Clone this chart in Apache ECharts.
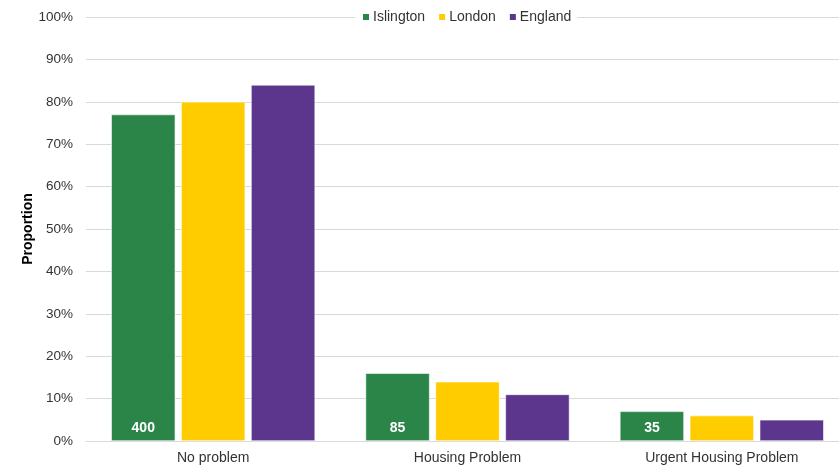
<!DOCTYPE html>
<html>
<head>
<meta charset="utf-8">
<script src="https://cdn.jsdelivr.net/npm/echarts@6/dist/echarts.min.js"></script>
<style>
  html, body { margin: 0; padding: 0; background: #fff; }
  #chart { width: 839px; height: 466px; }
</style>
</head>
<body>
<div id="chart"></div>
<script>
// Housing problem status: share of households by area
const categories = ['No problem', 'Housing Problem', 'Urgent Housing Problem'];
const islington = [77, 16, 7];
const london = [80, 14, 6];
const england = [84, 11, 5];
// Islington respondent counts shown on the bars
const islingtonCounts = [400, 85, 35];
const yTicks = [0, 10, 20, 30, 40, 50, 60, 70, 80, 90, 100];

const FONT = '"Liberation Sans", Arial, sans-serif';
const chart = echarts.init(document.getElementById('chart'));

chart.setOption({
  animation: false,
  textStyle: { fontFamily: FONT },
  legend: {
    top: 8,
    left: 355,
    padding: [2, 6],
    backgroundColor: '#ffffff',
    itemWidth: 8,
    itemHeight: 8,
    itemGap: 12,
    icon: 'rect',
    textStyle: { fontFamily: FONT, fontSize: 14, color: '#333333', padding: [0, 0, 0, -2] },
    data: ['Islington', 'London', 'England']
  },
  // the plot runs slightly past the right edge of the canvas
  grid: {
    left: 86, width: 763, top: 17, bottom: 25,
    containLabel: false,
    outerBoundsMode: 'none'
  },
  xAxis: {
    type: 'category',
    data: categories,
    axisTick: { show: false },
    axisLine: { lineStyle: { color: '#d9d9d9', width: 1 } },
    axisLabel: { fontFamily: FONT, fontSize: 14, color: '#333333', margin: 10 }
  },
  yAxis: {
    type: 'value',
    min: yTicks[0],
    max: yTicks[yTicks.length - 1],
    interval: yTicks[1] - yTicks[0],
    name: 'Proportion',
    nameLocation: 'middle',
    nameGap: 51,
    nameMoveOverlap: false,
    nameTextStyle: { fontFamily: FONT, fontSize: 14, fontWeight: 'bold', color: '#000000' },
    axisLine: { show: false },
    axisTick: { show: false },
    splitLine: { lineStyle: { color: '#d9d9d9', width: 1 } },
    axisLabel: { fontFamily: FONT, fontSize: 13.5, color: '#333333', margin: 13, formatter: '{value}%' }
  },
  series: [
    {
      name: 'Islington',
      type: 'bar',
      data: islington,
      barGap: '9%',
      barCategoryGap: '19.8%',
      itemStyle: { color: '#2b8548', borderColor: '#ffffff', borderWidth: 0.6 },
      label: {
        show: true,
        position: 'insideBottom',
        distance: 6,
        color: '#ffffff',
        fontFamily: FONT,
        fontSize: 14,
        fontWeight: 'bold',
        formatter: p => String(islingtonCounts[p.dataIndex])
      }
    },
    {
      name: 'London',
      type: 'bar',
      data: london,
      barGap: '9%',
      barCategoryGap: '19.8%',
      itemStyle: { color: '#ffcc00', borderColor: '#ffffff', borderWidth: 0.6 }
    },
    {
      name: 'England',
      type: 'bar',
      data: england,
      barGap: '9%',
      barCategoryGap: '19.8%',
      itemStyle: { color: '#5b368c', borderColor: '#ffffff', borderWidth: 0.6 }
    }
  ]
});
</script>
</body>
</html>
